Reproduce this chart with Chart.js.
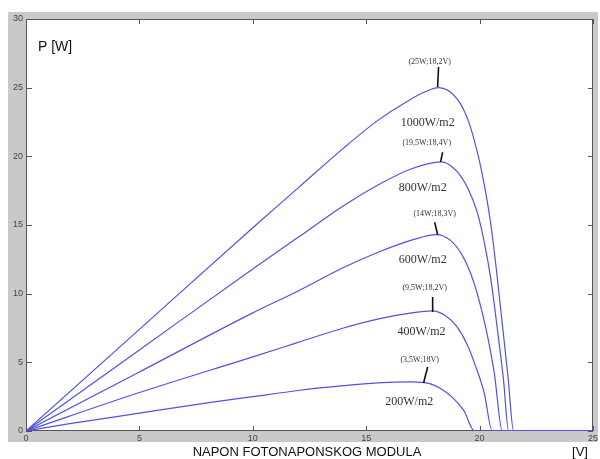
<!DOCTYPE html>
<html>
<head>
<meta charset="utf-8">
<script src="https://cdn.jsdelivr.net/npm/chart.js@4"></script>
<style>
    html, body { margin: 0; padding: 0; background: #fff; }
    #wrap { width: 600px; height: 459px; }
</style>
</head>
<body>
<div id="wrap"><canvas id="pv-chart" width="600" height="459"></canvas></div>
<script>
// P-V curves of a PV module for five irradiance levels
const irradiance = ['1000W/m2', '800W/m2', '600W/m2', '400W/m2', '200W/m2'];

const v1000 = [0, 5, 10, 12, 14, 15.5, 16.8, 17.6, 18.2, 19, 19.5, 19.9, 20.2, 20.5, 20.75, 21, 21.25, 21.5, 25];
const p1000 = [0, 7.4, 14.8, 17.7, 20.6, 22.6, 24.0, 24.7, 25, 24.2, 22.6, 20.3, 18.0, 15.0, 11.6, 7.8, 4.0, 0, 0];

const v800 = [0, 5, 10, 12, 14, 15.5, 17, 18.3, 19, 19.5, 19.9, 20.2, 20.5, 20.8, 21.05, 21.28, 25];
const p800 = [0, 5.9, 11.8, 14.1, 16.4, 17.9, 19.1, 19.6, 18.9, 17.6, 15.9, 13.8, 11.0, 7.2, 3.8, 0, 0];

const v600 = [0, 5, 10, 12, 14, 15.5, 17, 18.1, 18.7, 19.2, 19.6, 19.95, 20.3, 20.65, 21, 25];
const p600 = [0, 4.3, 8.6, 10.2, 11.9, 13.0, 13.9, 14.3, 13.9, 12.9, 11.5, 9.7, 7.3, 4.2, 0, 0];

const v400 = [0, 5, 10, 12, 14, 15.5, 17, 17.9, 18.5, 19, 19.45, 19.85, 20.2, 20.56, 25];
const p400 = [0, 2.8, 5.4, 6.45, 7.5, 8.15, 8.6, 8.75, 8.4, 7.6, 6.3, 4.6, 2.8, 0, 0];

const v200 = [0, 2, 5, 8, 10, 12, 14, 15.5, 17, 17.8, 18.24, 18.8, 19.3, 19.78, 25];
const p200 = [0, 0.55, 1.3, 2.05, 2.5, 2.95, 3.3, 3.5, 3.57, 3.45, 3.13, 2.45, 1.5, 0, 0];

const xTicks = [0, 5, 10, 15, 20, 25];
const yTicks = [0, 5, 10, 15, 20, 25, 30];

// text annotations: [V, P] in data units
const peakLabels = ['(25W;18,2V)', '(19,5W;18,4V)', '(14W;18,3V)', '(9,5W;18,2V)', '(3,5W;18V)'];
const peakLabelPos = [[17.8, 26.9], [17.67, 20.98], [18.02, 15.8], [17.58, 10.4], [17.36, 5.17]];
const irrLabelPos = [[17.71, 22.43], [17.49, 17.7], [17.49, 12.45], [17.44, 7.2], [16.9, 2.1]];
// leader lines from label to max power point
const leaders = [
    [[18.19, 26.5], [18.15, 25.05]],
    [[18.37, 20.3], [18.28, 19.6]],
    [[18.02, 15.2], [18.15, 14.3]],
    [[17.93, 9.76], [17.93, 8.67]],
    [[17.71, 4.66], [17.53, 3.5]],
];

const curves = [[v1000, p1000], [v800, p800], [v600, p600], [v400, p400], [v200, p200]];

const framePlugin = {
    id: 'frame',
    beforeDraw(chart) {
        const { ctx, chartArea: a } = chart;
        ctx.save();
        ctx.fillStyle = '#ffffff';
        ctx.fillRect(0, 0, chart.width, chart.height);
        ctx.fillStyle = '#c9c9c9';
        ctx.fillRect(8, 12, 590, 430);
        ctx.fillStyle = '#ffffff';
        ctx.fillRect(a.left, a.top, a.right - a.left, a.bottom - a.top);
        ctx.restore();
    },
    beforeDatasetsDraw(chart) {
        const { ctx, chartArea: a, scales } = chart;
        const sx = scales.x, sy = scales.y;
        ctx.save();
        // box with inward ticks (MATLAB style)
        ctx.strokeStyle = '#555';
        ctx.lineWidth = 1;
        ctx.strokeRect(a.left + 0.5, a.top + 0.5, a.right - a.left - 1, a.bottom - a.top - 1);
        ctx.beginPath();
        xTicks.forEach(v => {
            const x = Math.round(sx.getPixelForValue(v)) + 0.5;
            ctx.moveTo(x, a.bottom); ctx.lineTo(x, a.bottom - 5);
            ctx.moveTo(x, a.top); ctx.lineTo(x, a.top + 5);
        });
        yTicks.forEach(v => {
            const y = Math.round(sy.getPixelForValue(v)) + 0.5;
            ctx.moveTo(a.left, y); ctx.lineTo(a.left + 6, y);
            ctx.moveTo(a.right, y); ctx.lineTo(a.right - 5, y);
        });
        ctx.stroke();
        ctx.restore();
    },
    afterDraw(chart) {
        const { ctx, scales } = chart;
        const sx = scales.x, sy = scales.y;
        ctx.save();

        // leader lines
        ctx.strokeStyle = '#111';
        ctx.lineWidth = 1.6;
        leaders.forEach(([p, q]) => {
            ctx.beginPath();
            ctx.moveTo(sx.getPixelForValue(p[0]), sy.getPixelForValue(p[1]));
            ctx.lineTo(sx.getPixelForValue(q[0]), sy.getPixelForValue(q[1]));
            ctx.stroke();
        });

        // annotation text
        ctx.fillStyle = '#333';
        ctx.textAlign = 'center';
        ctx.textBaseline = 'middle';
        ctx.font = '8px "Liberation Serif", serif';
        peakLabels.forEach((t, i) => {
            const [v, p] = peakLabelPos[i];
            ctx.fillText(t, sx.getPixelForValue(v), sy.getPixelForValue(p));
        });
        ctx.font = '12px "Liberation Serif", serif';
        irradiance.forEach((t, i) => {
            const [v, p] = irrLabelPos[i];
            ctx.fillText(t, sx.getPixelForValue(v), sy.getPixelForValue(p));
        });

        // axis titles
        ctx.fillStyle = '#111';
        ctx.font = '14px "Liberation Sans", Arial, sans-serif';
        ctx.textAlign = 'left';
        ctx.fillText('P [W]', 38, 47);
        ctx.font = '13px "Liberation Sans", Arial, sans-serif';
        ctx.textAlign = 'center';
        ctx.fillText('NAPON FOTONAPONSKOG MODULA', 307, 452);
        ctx.fillText('[V]', 580, 452);
        ctx.restore();
    },
};

const ctx = document.getElementById('pv-chart').getContext('2d');
new Chart(ctx, {
    type: 'line',
    data: {
        datasets: curves.map(([v, p], i) => ({
            label: irradiance[i],
            data: v.map((x, k) => ({ x: x, y: p[k] })),
            borderColor: '#5252e2',
            borderWidth: 1.2,
            pointRadius: 0,
            fill: false,
            cubicInterpolationMode: 'monotone',
        })),
    },
    options: {
        responsive: false,
        animation: false,
        layout: { padding: { left: 8, top: 19, right: 7, bottom: 16 } },
        plugins: { legend: { display: false }, tooltip: { enabled: false } },
        scales: {
            x: {
                type: 'linear',
                min: 0,
                max: 25,
                afterBuildTicks: (axis) => { axis.ticks = xTicks.map(v => ({ value: v })); },
                afterFit: (axis) => { axis.height = 12; },
                ticks: { color: '#444', font: { size: 9, family: 'Liberation Sans' }, padding: 2, maxRotation: 0 },
                grid: { display: false, drawTicks: false },
                border: { display: false },
            },
            y: {
                min: 0,
                max: 30,
                afterBuildTicks: (axis) => { axis.ticks = yTicks.map(v => ({ value: v })); },
                afterFit: (axis) => { axis.width = 18; },
                ticks: { color: '#444', font: { size: 9, family: 'Liberation Sans' }, padding: 3 },
                grid: { display: false, drawTicks: false },
                border: { display: false },
            },
        },
    },
    plugins: [framePlugin],
});
</script>
</body>
</html>
